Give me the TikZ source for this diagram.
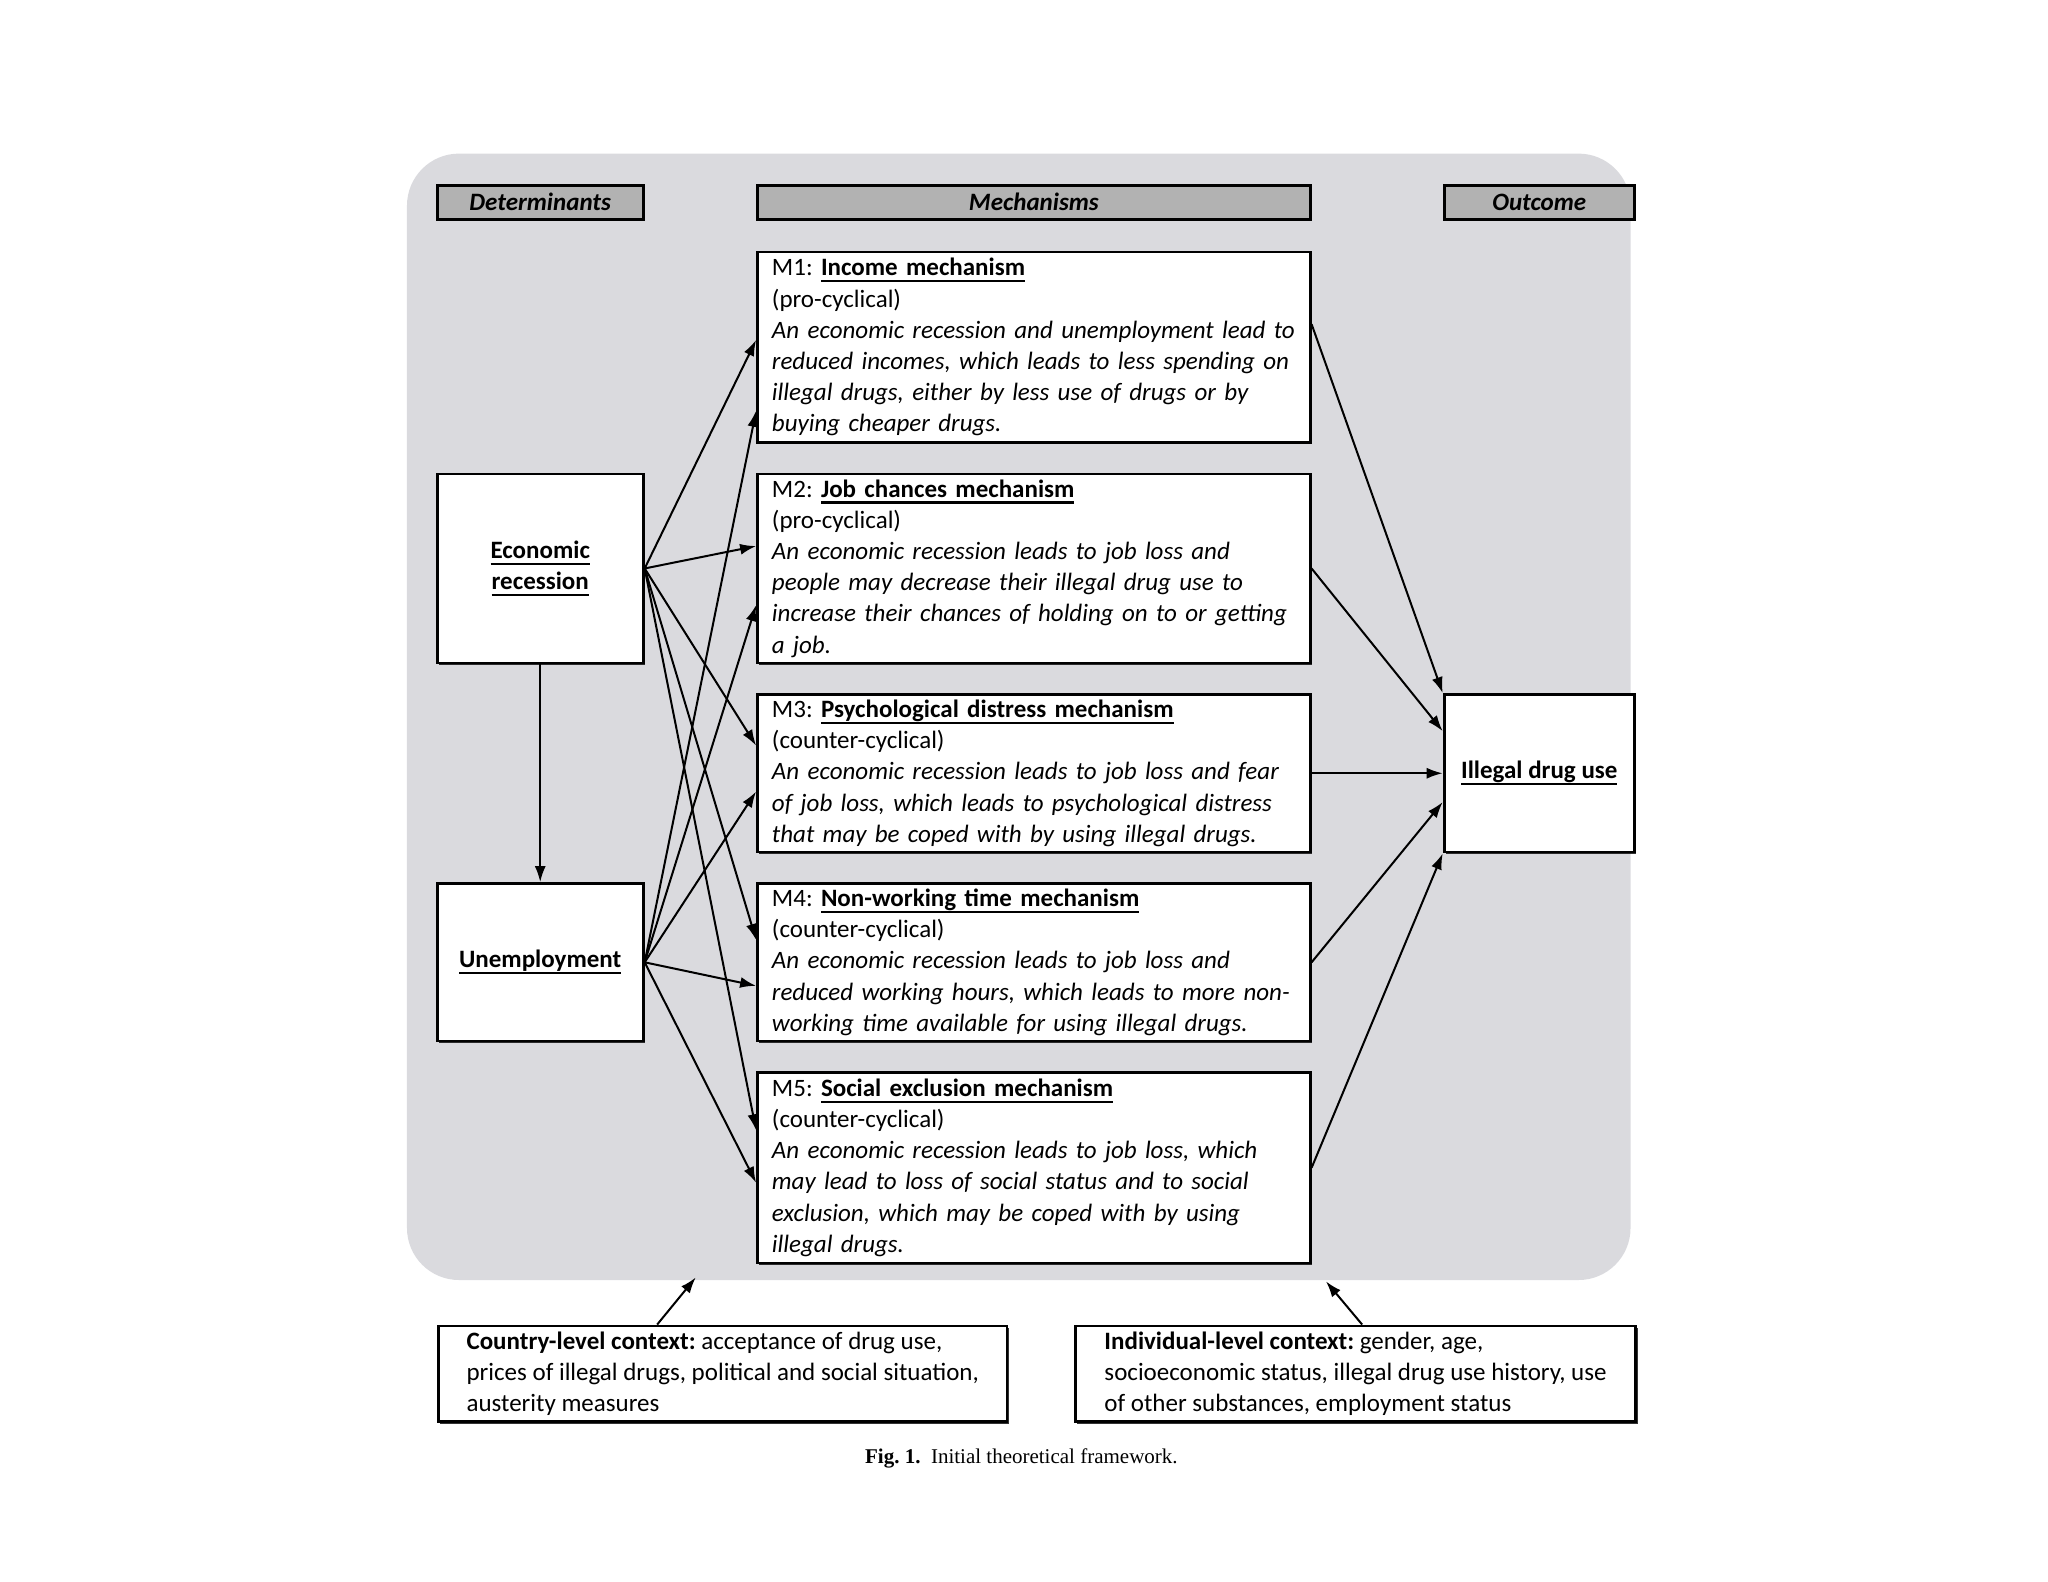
\documentclass[tikz,border=0pt]{standalone}
\usepackage{fontspec}
\setmainfont{Carlito}
\newfontfamily\capfont{Liberation Serif}
\newcommand\ulin[1]{\leavevmode\setbox0=\hbox{#1}\dp0=0pt\vtop{\copy0\kern2.2pt\hrule height 1.1pt}}
\frenchspacing
\usetikzlibrary{calc, shadows, arrows.meta}

\begin{document}
\begin{tikzpicture}[x=0.6564pt, y=-0.6564pt, font=\fontsize{12.5}{15.6}\selectfont]
        \def\pxu{0.6564pt}
        \definecolor{panelgrey}{RGB}{218,218,222}
        \definecolor{headgrey}{RGB}{178,178,178}
        \tikzset{
            box/.style={draw, line width=1.4pt, fill=white, inner sep=0pt,
                drop shadow={shadow xshift=0.9pt, shadow yshift=-0.9pt, fill=black, opacity=0.8}},
            head/.style={box, line width=1.6pt, fill=headgrey, minimum height=26*\pxu, font=\fontsize{12.5}{15.6}\selectfont\bfseries\itshape},
            mech/.style={box, text width=399*\pxu, inner xsep=11*\pxu, align=left},
            ctx/.style={box, inner xsep=12*\pxu, align=left, minimum height=73*\pxu, anchor=west},
            arr/.style={-{Latex[length=8pt, width=5.5pt]}, line width=1pt}
        }

        \useasboundingbox (0,0) rectangle (1560,1205);
        \fill [panelgrey, rounded corners=26pt] (310,117) rectangle (1242,975);

        \node [head, minimum width=157*\pxu] (hdet) at (411.5,154) {Determinants};
        \node [head, minimum width=421*\pxu] (hmech) at (787.5,154) {Mechanisms};
        \node [head, minimum width=145*\pxu] (hout) at (1172.5,154) {Outcome};

        \node [mech, minimum height=145*\pxu] (m1) at (787.5,264.5) {M1: \ulin{\textbf{Income mechanism}}\\
            (pro-cyclical)\\
            \textit{An economic recession and unemployment lead to\\
            reduced incomes, which leads to less spending on\\
            illegal drugs, either by less use of drugs or by\\
            buying cheaper drugs.}};
        \node [mech, minimum height=144*\pxu] (m2) at (787.5,433) {M2: \ulin{\textbf{Job chances mechanism}}\\
            (pro-cyclical)\\
            \textit{An economic recession leads to job loss and\\
            people may decrease their illegal drug use to\\
            increase their chances of holding on to or getting\\
            a job.}};
        \node [mech, minimum height=120*\pxu] (m3) at (787.5,589) {M3: \ulin{\textbf{Psychological distress mechanism}}\\
            (counter-cyclical)\\
            \textit{An economic recession leads to job loss and fear\\
            of job loss, which leads to psychological distress\\
            that may be coped with by using illegal drugs.}};
        \node [mech, minimum height=120*\pxu] (m4) at (787.5,733) {M4: \ulin{\textbf{Non-working time mechanism}}\\
            (counter-cyclical)\\
            \textit{An economic recession leads to job loss and\\
            reduced working hours, which leads to more non-\\
            working time available for using illegal drugs.}};
        \node [mech, minimum height=145*\pxu] (m5) at (787.5,889.5) {M5: \ulin{\textbf{Social exclusion mechanism}}\\
            (counter-cyclical)\\
            \textit{An economic recession leads to job loss, which\\
            may lead to loss of social status and to social\\
            exclusion, which may be coped with by using\\
            illegal drugs.}};

        \node [box, minimum width=157*\pxu, minimum height=144*\pxu, align=center] (er) at (411.5,433)
            {\ulin{\textbf{Economic}}\\ \ulin{\textbf{recession}}};
        \node [box, minimum width=157*\pxu, minimum height=120*\pxu] (ue) at (411.5,733)
            {\ulin{\textbf{Unemployment}}};
        \node [box, minimum width=145*\pxu, minimum height=120*\pxu] (idu) at (1172.5,589)
            {\ulin{\textbf{Illegal drug use}}};

        \node [ctx, minimum width=433*\pxu] (country) at (333,1046.5)
            {\textbf{Country-level context:} acceptance of drug use,\\
            prices of illegal drugs, political and social situation,\\
            austerity measures};
        \node [ctx, minimum width=427*\pxu] (indiv) at (818,1046.5)
            {\textbf{Individual-level context:} gender, age,\\
            socioeconomic status, illegal drug use history, use\\
            of other substances, employment status};

        \node (cap) at (778,1111) {\capfont\fontsize{10.5}{12}\selectfont\textbf{Fig. 1.}\ \ Initial theoretical framework.};

        \foreach \m/\a/\b in {m1/68/122, m2/56/101, m3/40/75, m4/44/79, m5/45/85}{
            \draw [arr] (er.east) -- ($(\m.north west)+(0,\a)$);
            \draw [arr] (ue.east) -- ($(\m.north west)+(0,\b)$);
        }
        \draw [arr] (er.south) -- (ue.north);

        \draw [arr] ($(m1.north east)+(0,56)$) -- (idu.north west);
        \draw [arr] (m2.east) -- ($(idu.north west)+(0,29)$);
        \draw [arr] (m3.east) -- (idu.west);
        \draw [arr] (m4.east) -- ($(idu.north west)+(0,83)$);
        \draw [arr] (m5.east) -- (idu.south west);

        \coordinate (ctip) at (530,973);
        \coordinate (itip) at (1010,976);
        \draw [arr] ($(country.north)+(-50,0)$) -- (ctip);
        \draw [arr] ($(indiv.north)+(5,0)$) -- (itip);
\end{tikzpicture}
\end{document}
